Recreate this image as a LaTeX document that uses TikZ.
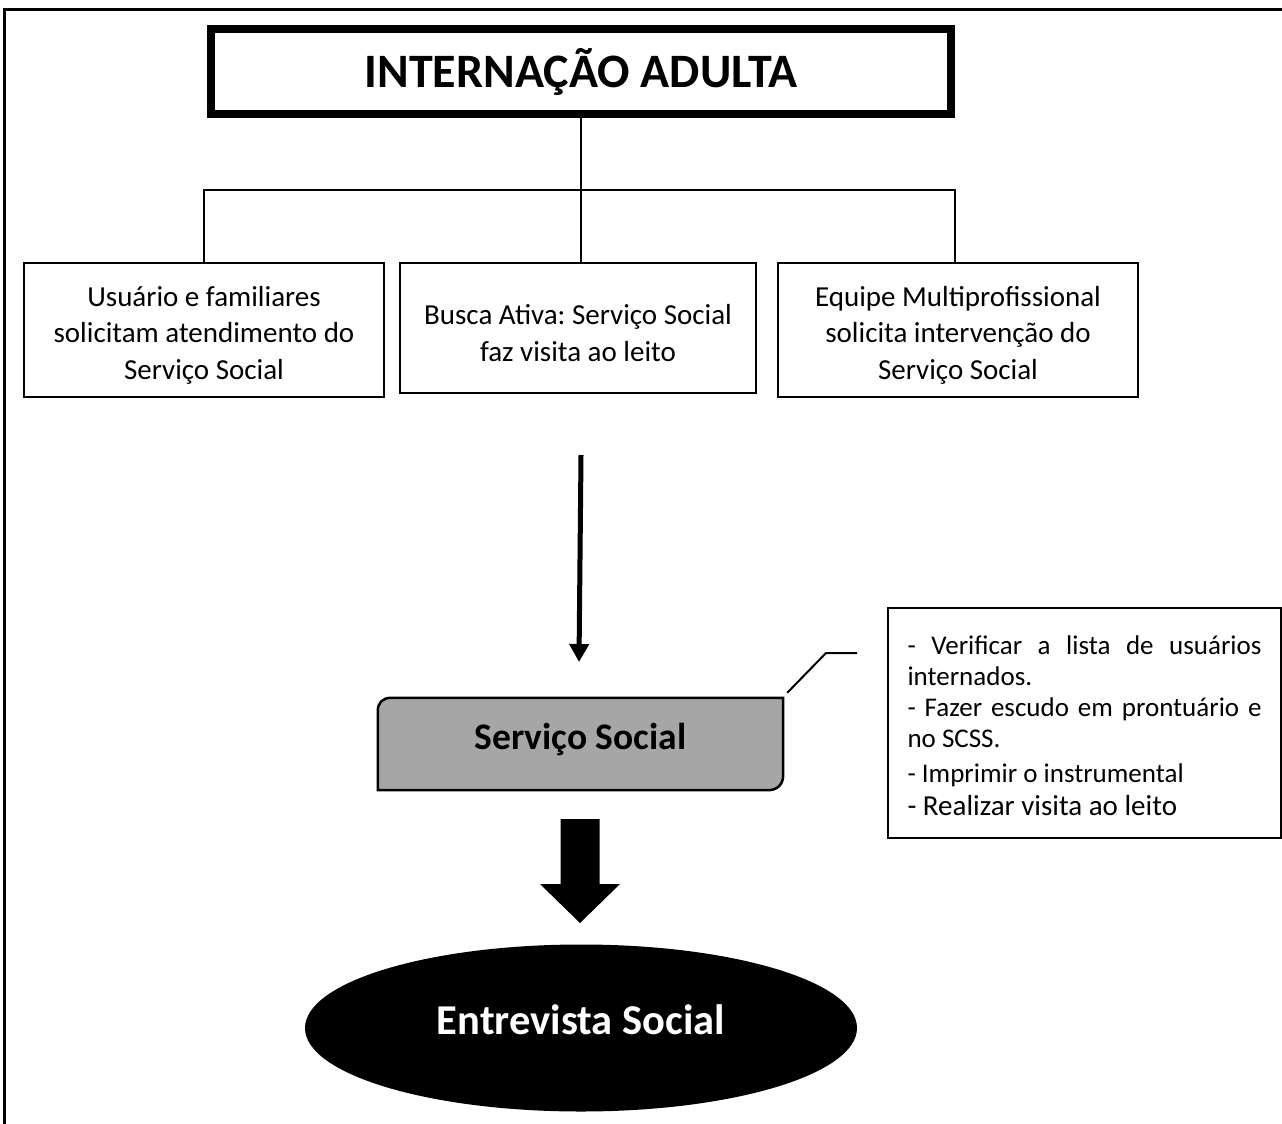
\documentclass[tikz,border=0pt]{standalone}
\usepackage{fontspec}
\setmainfont{Carlito}
\usetikzlibrary{arrows.meta,shapes.geometric,calc}
\definecolor{ssgray}{HTML}{A6A6A6}
\pgfdeclarelayer{background}
\pgfsetlayers{background,main}
\frenchspacing
\tikzset{
  frameline/.style={line width=3pt},
  titlebox/.style={draw, line width=8pt, rectangle, inner sep=0pt, minimum width=740pt, minimum height=85pt, font=\fontsize{48}{52}\selectfont\bfseries},
  textbox/.style={draw, line width=2pt, rectangle, inner sep=0pt},
  boxlabel/.style={align=center, inner sep=0pt, yshift=-5pt, font=\fontsize{29}{36.5}\selectfont\frenchspacing},
  conn/.style={line width=2pt},
  thinarrow/.style={line width=5pt, -{Triangle[length=18pt,width=19pt]}},
  ssbox/.style={line width=2.5pt, fill=ssgray},
  callout/.style={draw, line width=2pt, rectangle, inner sep=0pt, minimum width=393pt, minimum height=230pt},
  calloutlabel/.style={inner sep=0pt, text width=354pt, align=justify, yshift=-3pt, font=\fontsize{27}{31}\selectfont\frenchspacing},
  calloutline/.style={line width=2pt},
  blockarrow/.style={fill=black},
  endellipse/.style={ellipse, fill=black, inner sep=0pt, minimum width=552pt, minimum height=167pt}
}
\begin{document}
\begin{tikzpicture}[x=1pt,y=-1pt]
\useasboundingbox (0,0) rectangle (1282,1124);
% page frame
\draw[frameline] (1282,10) -- (4,10) -- (4,1124);

% title
\node[titlebox] (title) at (581,71.5) {\raisebox{-3pt}{INTERNAÇÃO ADULTA}};

% three boxes
\node[textbox, minimum width=360pt, minimum height=134pt,
  label={[boxlabel]center:{Usuário e familiares\\solicitam atendimento do\\Serviço Social}}] (box1) at (204,330) {};
\node[textbox, minimum width=356pt, minimum height=130pt,
  label={[boxlabel]center:{Busca Ativa: Serviço Social\\faz visita ao leito}}] (box2) at (578,328) {};
\node[textbox, minimum width=360pt, minimum height=134pt,
  label={[boxlabel]center:{Equipe Multiprofissional\\solicita intervenção do\\Serviço Social}}] (box3) at (958,330) {};

% connectors
\coordinate (hb) at (580,190);
\draw[conn] (title.south) -- (title.south |- box2.north);
\draw[conn] (box1.north) |- (hb) -| ([xshift=-3pt]box3.north);

% thin arrow
\coordinate (astart) at (581,455);
\coordinate (aend) at (579,662);
\draw[thinarrow] (astart) -- (aend);

% Servico Social box
\node[inner sep=0pt, minimum width=405pt, minimum height=92pt,
  label={[inner sep=0pt, yshift=5pt, font=\fontsize{37.5}{40}\selectfont\bfseries]center:Serviço Social}] (ss) at (580.5,744) {};
\begin{pgfonlayer}{background}
\draw[ssbox] (ss.south west) -- ($(ss.north west)+(0,13)$)
  .. controls ($(ss.north west)+(0,5)$) and ($(ss.north west)+(5,0)$) .. ($(ss.north west)+(13,0)$)
  -- (ss.north east) -- ($(ss.south east)+(0,-15)$)
  .. controls ($(ss.south east)+(0,-6)$) and ($(ss.south east)+(-6,0)$) .. ($(ss.south east)+(-15,0)$)
  -- cycle;
\end{pgfonlayer}

% callout
\node[callout, label={[calloutlabel]center:{- Verificar a lista de usuários\linebreak internados.\\- Fazer escudo em prontuário e\linebreak no SCSS.\\[4pt]- Imprimir o instrumental\\[2pt]{\fontsize{29}{33}\selectfont - Realizar visita ao leito}}}] (note) at (1084.5,723) {};
\coordinate (c1) at (826,653);
\coordinate (c2) at (857,653);
\draw[calloutline] ([shift={(4pt,5pt)}]ss.north east) -- (c1) -- (c2);

% block arrow
\coordinate (bt) at (580,819);
\fill[blockarrow] ($(bt)+(-19.5,0)$) -- ($(bt)+(19.5,0)$) -- ($(bt)+(19.5,65)$) -- ($(bt)+(40,65)$) -- ($(bt)+(0,104)$) -- ($(bt)+(-40,65)$) -- ($(bt)+(-19.5,65)$) -- cycle;

% final ellipse
\node[endellipse] (ent) at (581,1028) {};
\node[text=white, font=\fontsize{42.5}{46}\selectfont\bfseries] (enttext) at ([yshift=8pt]ent.center) {Entrevista Social};
\end{tikzpicture}
\end{document}
